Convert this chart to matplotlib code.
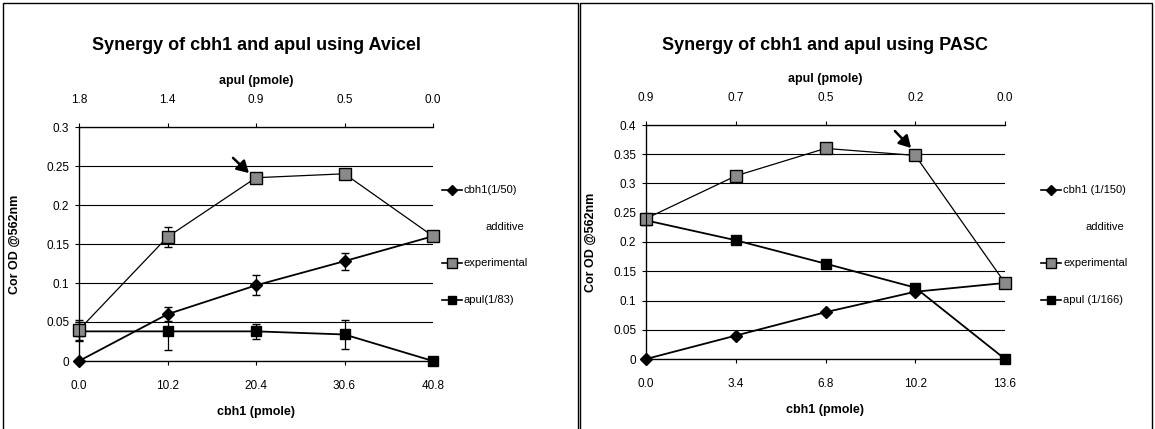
import matplotlib
matplotlib.use("Agg")
import matplotlib.pyplot as plt
from matplotlib.lines import Line2D
from matplotlib.patches import FancyArrowPatch
import numpy as np

# ---------------------------------------------------------------------------
# Data
# ---------------------------------------------------------------------------

# Avicel panel
avi_cbh1_pmole = [0.0, 10.2, 20.4, 30.6, 40.8]
avi_apul_pmole = ["1.8", "1.4", "0.9", "0.5", "0.0"]
avi_cbh1 = [0.0, 0.060, 0.097, 0.128, 0.160]
avi_cbh1_err = [0.0, 0.009, 0.013, 0.011, 0.0]
avi_exp = [0.040, 0.159, 0.235, 0.240, 0.160]
avi_exp_err = [0.013, 0.013, 0.0, 0.0, 0.0]
avi_apul = [0.038, 0.038, 0.038, 0.034, 0.0]
avi_apul_err = [0.012, 0.024, 0.010, 0.019, 0.0]

# PASC panel
pasc_cbh1_pmole = [0.0, 3.4, 6.8, 10.2, 13.6]
pasc_apul_pmole = ["0.9", "0.7", "0.5", "0.2", "0.0"]
pasc_cbh1 = [0.0, 0.040, 0.080, 0.115, 0.130]
pasc_exp = [0.240, 0.313, 0.360, 0.348, 0.130]
pasc_apul = [0.237, 0.203, 0.163, 0.122, 0.0]

W, H = 1155, 429
DPI = 100
SANS = ["Liberation Sans", "DejaVu Sans"]
EXP_FACE = "#8a8a8a"

fig = plt.figure(figsize=(W / DPI, H / DPI), dpi=DPI, facecolor="white")


def fx(px):
    return px / W


def fy(py):
    return 1 - py / H


def panel(left, top, right, bottom, x, apul_lbl, ymax, ystep, series,
          title, legend_labels, legend_x, arrow, ylabel_x):
    ax = fig.add_axes([fx(left), fy(bottom), fx(right - left), (bottom - top) / H])
    ax.set_xlim(x[0], x[-1])
    ax.set_ylim(0, ymax)
    yt = np.arange(0, ymax + 1e-9, ystep)
    ax.set_yticks(yt)
    ax.set_yticklabels([("%g" % v) for v in yt], family=SANS, fontsize=8.5)
    ax.set_xticks(x)
    ax.set_xticklabels(["%.1f" % v for v in x], family=SANS, fontsize=8.5)
    ax.tick_params(axis="y", length=3, width=0.8, color="black", pad=4)
    ax.tick_params(axis="x", length=3, width=0.8, color="black", pad=11)
    ax.yaxis.grid(True, color="black", lw=0.8)
    ax.set_axisbelow(True)
    ax.spines["right"].set_visible(False)
    for s in ("left", "bottom", "top"):
        ax.spines[s].set_linewidth(0.9)
    ax.set_xlabel("cbh1 (pmole)", family=SANS, fontsize=9, fontweight="bold",
                  labelpad=10)
    ax.set_ylabel("Cor OD @562nm", family=SANS, fontsize=9, fontweight="bold")
    ax.yaxis.set_label_coords((ylabel_x - left) / (right - left), 0.5)

    top_ax = ax.twiny()
    top_ax.set_xlim(ax.get_xlim())
    top_ax.set_xticks(x)
    top_ax.set_xticklabels(apul_lbl, family=SANS, fontsize=8.5)
    top_ax.tick_params(length=3, width=0.8, pad=12)
    top_ax.spines["right"].set_visible(False)
    top_ax.set_xlabel("apul (pmole)", family=SANS, fontsize=9,
                      fontweight="bold", labelpad=7)

    (c_y, c_e), (e_y, e_e), (a_y, a_e) = series
    ax.errorbar(x, c_y, yerr=c_e, color="black", lw=1.3, marker="D", ms=6,
                mfc="black", mec="black", capsize=3, elinewidth=0.9,
                clip_on=False, zorder=4)
    ax.errorbar(x, e_y, yerr=e_e, color="black", lw=0.9, marker="s", ms=8,
                mfc=EXP_FACE, mec="black", mew=1.0, capsize=3, elinewidth=0.9,
                clip_on=False, zorder=5)
    ax.errorbar(x, a_y, yerr=a_e, color="black", lw=1.3, marker="s", ms=7,
                mfc="black", mec="black", capsize=3, elinewidth=0.9,
                clip_on=False, zorder=4)

    fig.text(fx((left + right) / 2), fy(45), title, ha="center", va="center",
             family=SANS, fontsize=13, fontweight="bold")

    # arrow pointing at the peak experimental point
    (x0, y0), (x1, y1) = arrow
    fig.add_artist(FancyArrowPatch(
        (fx(x0), fy(y0)), (fx(x1), fy(y1)), transform=fig.transFigure,
        arrowstyle="-|>,head_length=7,head_width=4", color="black", lw=1.8,
        mutation_scale=1))

    # legend drawn by hand, Excel style
    rows = [190, 227, 263, 300]
    styles = [dict(marker="D", ms=5, mfc="black", mec="black"),
              None,
              dict(marker="s", ms=7, mfc=EXP_FACE, mec="black"),
              dict(marker="s", ms=6, mfc="black", mec="black")]
    for ry, lbl, st in zip(rows, legend_labels, styles):
        if st is None:
            fig.text(fx(legend_x + 44), fy(ry), lbl, ha="left", va="center",
                     family=SANS, fontsize=8)
            continue
        fig.add_artist(Line2D([fx(legend_x), fx(legend_x + 20)], [fy(ry), fy(ry)],
                              transform=fig.transFigure, color="black", lw=1.2))
        fig.add_artist(Line2D([fx(legend_x + 10)], [fy(ry)],
                              transform=fig.transFigure, color="black", lw=0,
                              **st))
        fig.text(fx(legend_x + 22), fy(ry), lbl, ha="left", va="center",
                 family=SANS, fontsize=8)
    return ax


panel(79, 127, 433, 361, avi_cbh1_pmole, avi_apul_pmole, 0.3, 0.05,
      [(avi_cbh1, avi_cbh1_err), (avi_exp, avi_exp_err), (avi_apul, avi_apul_err)],
      "Synergy of cbh1 and apul using Avicel",
      ["cbh1(1/50)", "additive", "experimental", "apul(1/83)"], 442,
      ((231, 156), (251, 175)), 21)

panel(646, 125, 1005, 359, pasc_cbh1_pmole, pasc_apul_pmole, 0.4, 0.05,
      [(pasc_cbh1, None), (pasc_exp, None), (pasc_apul, None)],
      "Synergy of cbh1 and apul using PASC",
      ["cbh1 (1/150)", "additive", "experimental", "apul (1/166)"], 1041,
      ((893, 129), (913, 150)), 597)

# panel frames (scanned borders, no bottom edge)
for l, r in ((3, 578), (580, 1152)):
    fig.add_artist(Line2D([fx(l), fx(l), fx(r), fx(r)], [fy(428), fy(3), fy(3), fy(428)],
                          transform=fig.transFigure, color="black", lw=1.0))

fig.savefig("out.png", dpi=DPI, facecolor="white")
